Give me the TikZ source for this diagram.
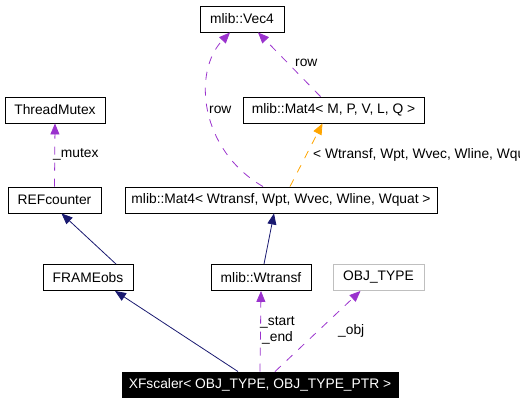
\documentclass[tikz,border=0pt]{standalone}
\usepackage{fontspec}
\setmainfont{Liberation Sans}
\usetikzlibrary{arrows.meta}
\definecolor{edgeblue}{HTML}{191970}
\definecolor{edgepurple}{HTML}{9A32CD}
\definecolor{edgeorange}{HTML}{FFA500}
\definecolor{boxgray}{HTML}{BFBFBF}
\tikzset{
  cls/.style={draw=black, line width=0.9pt, inner sep=0pt, minimum height=26pt,
    font=\fontsize{13.8}{16}\selectfont},
  inherit/.style={draw=edgeblue, line width=0.8pt, -{Triangle[length=11pt,width=9pt]}},
  usage/.style={draw=edgepurple, line width=0.8pt, dash pattern=on 8pt off 8pt,
    arrows={-{Triangle[length=11pt,width=9pt,fill=edgepurple]}}},
  tmpl/.style={draw=edgeorange, line width=0.8pt, dash pattern=on 8pt off 8pt,
    arrows={-{Triangle[length=11pt,width=9pt,fill=edgeorange]}}},
  lbl/.style={inner sep=0pt, font=\fontsize{13.8}{16}\selectfont}
}
\begin{document}
\begin{tikzpicture}[x=1pt, y=-1pt]
            \clip (0,0) rectangle (520,403);

            \node [cls, minimum width=84pt] (vec) at (242,19) {mlib::Vec4};
            \node [cls, minimum width=100pt] (mutex) at (55,110) {ThreadMutex};
            \node [cls, minimum width=181pt] (matq) at (333.5,110) {mlib::Mat4< M, P, V, L, Q >};

            \node [cls, minimum width=93pt] (refc) at (54.5,200) {REFcounter};
            \node [cls, minimum width=312pt] (matw) at (281,200) {mlib::Mat4< Wtransf, Wpt, Wvec, Wline, Wquat >};

            \node [cls, minimum width=90pt] (frame) at (88,277.5) {FRAMEobs};
            \node [cls, minimum width=100pt] (wtr) at (261,277.5) {mlib::Wtransf};
            \node [cls, draw=boxgray, minimum width=91pt] (obj) at (378.5,277.5) {OBJ\_TYPE};

            \node [cls, fill=black, text=white, minimum width=276pt, minimum height=25pt] (xf) at (260,384.5) {XFscaler< OBJ\_TYPE, OBJ\_TYPE\_PTR >};

            \draw [usage] (refc.north) -- (mutex.south);
            \draw [inherit] ([xshift=28pt]frame.north) -- ([xshift=7pt]refc.south);
            \draw [inherit] ([xshift=3pt]wtr.north) -- ([xshift=-7pt]matw.south);

            \draw [usage] ([xshift=-13pt]matq.north) -- ([xshift=16pt]vec.south);
            \draw [usage] ([xshift=-18pt]matw.north) .. controls (200,150) and (192,72) .. ([xshift=-12pt]vec.south);
            \draw [tmpl] ([xshift=9pt]matw.north) -- ([xshift=-11pt]matq.south);

            \draw [inherit] ([xshift=-22pt]xf.north) -- ([xshift=27pt]frame.south);
            \draw [usage] (xf.north) -- (wtr.south);
            \draw [usage] ([xshift=15pt]xf.north) -- ([xshift=-18pt]obj.south);

            \node [lbl, anchor=west] (lrow1) at (209,110) {row};
            \node [lbl, anchor=west] (lrow2) at (295,63) {row};
            \node [lbl, anchor=west] (lmutex) at (53,154) {\_mutex};
            \node [lbl, anchor=west] (ltmpl) at (313,155) {< Wtransf, Wpt, Wvec, Wline, Wquat >};
            \node [lbl, anchor=west] (lstart) at (260,322) {\_start};
            \node [lbl, anchor=west] (lend) at (262,338) {\_end};
            \node [lbl, anchor=west] (lobj) at (338,331) {\_obj};
        \end{tikzpicture}
\end{document}
